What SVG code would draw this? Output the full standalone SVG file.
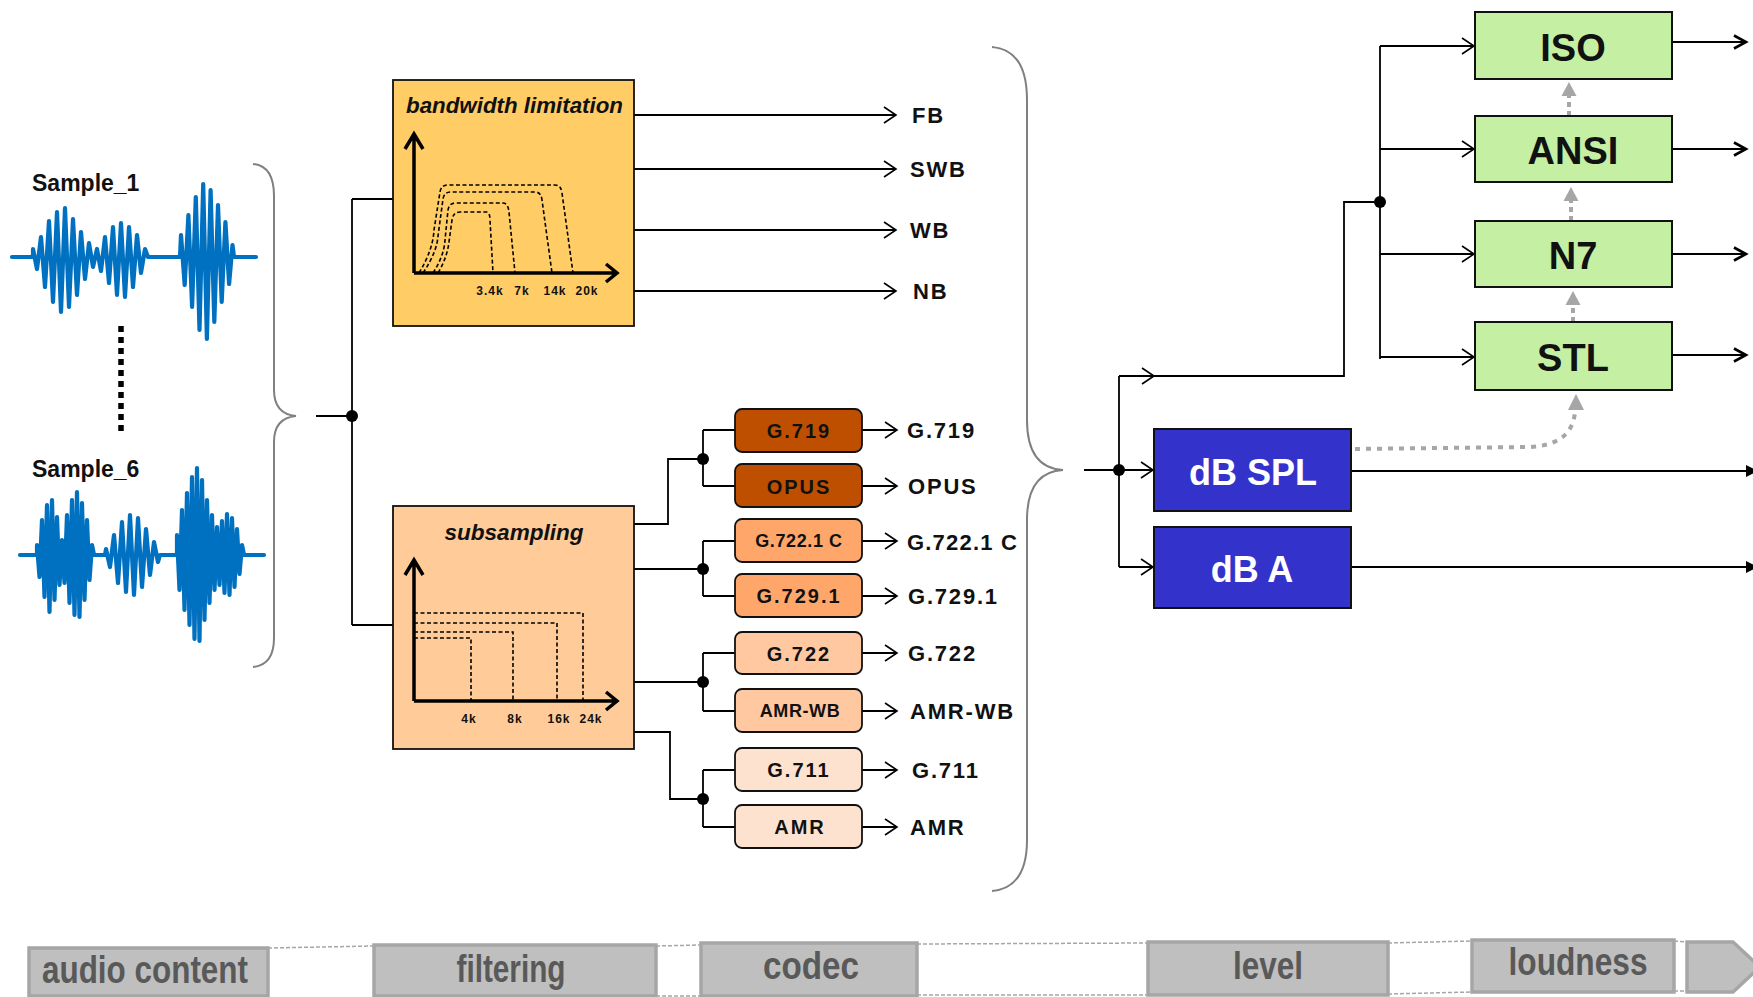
<svg xmlns="http://www.w3.org/2000/svg" width="1753" height="997" viewBox="0 0 1753 997">
  <defs>
    <style>
      text { font-family: "Liberation Sans", Arial, sans-serif; font-weight: bold; }
      .ln { fill: none; stroke: #000; stroke-width: 1.8; }
      .brace { fill: none; stroke: #808080; stroke-width: 2; }
      .dot { fill: #000; }
      .gdash { fill: none; stroke: #A6A6A6; stroke-width: 4; stroke-dasharray: 5 4; }
      .ghead { fill: #A6A6A6; }
      .wave { fill: none; stroke: #0070C0; stroke-width: 4.2; stroke-linejoin: round; stroke-linecap: round; }
      .axis { fill: none; stroke: #000; stroke-width: 3.5; }
      .curve { fill: none; stroke: #000; stroke-width: 1.6; stroke-dasharray: 4 2.5; }
      .codec { stroke: #111; stroke-width: 1.8; }
      .ctxt { font-size: 20px; text-anchor: middle; fill: #111; letter-spacing: 2px; }
      .lbl { font-size: 22px; fill: #111; letter-spacing: 1.8px; }
      .tick { font-size: 12px; fill: #111; letter-spacing: 1px; text-anchor: middle; }
      .green { fill: #C5F0A4; stroke: #111; stroke-width: 2; }
      .gtxt { font-size: 38px; text-anchor: middle; fill: #111; }
      .blue { fill: #3333CC; stroke: #111; stroke-width: 2; }
      .btxt { font-size: 36px; text-anchor: middle; fill: #fff; }
      .stage { fill: #BFBFBF; stroke: #A6A6A6; stroke-width: 3.5; }
      .stxt { font-size: 38px; fill: #595959; text-anchor: middle; }
      .sdash { fill: none; stroke: #A6A6A6; stroke-width: 1.5; stroke-dasharray: 4 2; }
    </style>
    <marker id="open" markerUnits="userSpaceOnUse" markerWidth="16" markerHeight="18" refX="12" refY="8" orient="auto" overflow="visible">
      <path d="M0,0 L12,8 L0,16" fill="none" stroke="#000" stroke-width="1.6"/>
    </marker>
    <marker id="bold" markerUnits="userSpaceOnUse" markerWidth="16" markerHeight="16" refX="12" refY="6.5" orient="auto" overflow="visible">
      <path d="M0,0 L12,6.5 L0,13" fill="none" stroke="#000" stroke-width="2.6"/>
    </marker>
  </defs>

  <rect width="1753" height="997" fill="#fff"/>

  <!-- audio samples -->
  <g id="sample1">
    <text x="32" y="191" font-size="23" fill="#111">Sample_1</text>
    <path class="wave" d="M12,257 L33,257 L33,249 L37,269 L41,237 L45,287 L49,221 L53,302 L57,212 L61,312 L65,208 L69,307 L73,219 L77,295 L81,232 L85,279 L89,243 L93,267 L97,249 L101,271 L105,237 L109,283 L113,227 L117,295 L121,223 L125,297 L129,227 L133,287 L137,235 L141,273 L145,249 L148,257 L180,257 L181,235 L184.7,285 L188.4,215 L192.1,307 L195.8,197 L199.5,330 L203.2,184 L206.9,339 L210.6,190 L214.3,322 L218,205 L221.7,302 L225.4,222 L229.1,284 L232.5,245 L234,257 L256,257"/>
  </g>
  <g id="ellipsis">
    <line x1="121" y1="326" x2="121" y2="431" stroke="#000" stroke-width="5.5" stroke-dasharray="6 5"/>
  </g>
  <g id="sample6">
    <text x="32" y="477" font-size="23" fill="#111">Sample_6</text>
    <path class="wave" d="M20,555 L37,555 L37,545 L39.5,577 L42,520 L44.5,597 L47,505 L49.5,612 L52,500 L54.5,600 L57,517 L59.5,585 L62,540 L64.5,583 L67,515 L69.5,603 L72,500 L74.5,615 L77,492 L79.5,617 L82,503 L84.5,600 L87,520 L89.5,580 L92,545 L94,555 L105,555 L106,549 L110,567 L114,535 L118,583 L122,522 L126,592 L130,515 L134,595 L138,518 L142,587 L146,529 L150,575 L154,542 L158,562 L160,555 L177,555 L177,535 L179.5,590 L182,510 L184.5,610 L187,493 L189.5,625 L192,477 L194.5,639 L197,468 L199.5,641 L202,480 L204.5,620 L207,500 L209.5,603 L212,515 L214.5,590 L217,527 L219.5,585 L222,521 L224.5,593 L227,514 L229.5,595 L232,518 L234.5,587 L237,529 L239.5,574 L242,545 L244,555 L264,555"/>
  </g>

  <!-- connectors -->
  <g id="connectors">
    <path class="brace" d="M253,164 Q274,166 274,196 L274,390 Q274,414 296,416 Q274,418 274,442 L274,638 Q274,665 253,667"/>
    <path class="ln" d="M316,416 L352,416 M352,199 L352,625 M352,199 L393,199 M352,625 L393,625"/>
    <circle class="dot" cx="352" cy="416" r="6"/>

    <line class="ln" x1="634" y1="115" x2="896" y2="115" marker-end="url(#open)"/>
    <line class="ln" x1="634" y1="169" x2="896" y2="169" marker-end="url(#open)"/>
    <line class="ln" x1="634" y1="230" x2="896" y2="230" marker-end="url(#open)"/>
    <line class="ln" x1="634" y1="291" x2="896" y2="291" marker-end="url(#open)"/>

    <path class="ln" d="M634,524 L668,524 L668,459 L703,459 M703,430 L703,486 M703,430 L735,430 M703,486 L735,486"/>
    <path class="ln" d="M634,569 L703,569 M703,541 L703,596 M703,541 L735,541 M703,596 L735,596"/>
    <path class="ln" d="M634,682 L703,682 M703,653 L703,711 M703,653 L735,653 M703,711 L735,711"/>
    <path class="ln" d="M634,732 L670,732 L670,799 L703,799 M703,770 L703,827 M703,770 L735,770 M703,827 L735,827"/>
    <circle class="dot" cx="703" cy="459" r="6"/>
    <circle class="dot" cx="703" cy="569" r="6"/>
    <circle class="dot" cx="703" cy="682" r="6"/>
    <circle class="dot" cx="703" cy="799" r="6"/>

    <line class="ln" x1="862" y1="430" x2="897" y2="430" marker-end="url(#open)"/>
    <line class="ln" x1="862" y1="486" x2="897" y2="486" marker-end="url(#open)"/>
    <line class="ln" x1="862" y1="541" x2="897" y2="541" marker-end="url(#open)"/>
    <line class="ln" x1="862" y1="596" x2="897" y2="596" marker-end="url(#open)"/>
    <line class="ln" x1="862" y1="653" x2="897" y2="653" marker-end="url(#open)"/>
    <line class="ln" x1="862" y1="711" x2="897" y2="711" marker-end="url(#open)"/>
    <line class="ln" x1="862" y1="770" x2="897" y2="770" marker-end="url(#open)"/>
    <line class="ln" x1="862" y1="827" x2="897" y2="827" marker-end="url(#open)"/>

    <path class="brace" d="M992,47 Q1027,50 1027,100 L1027,420 Q1027,468 1063,470 Q1027,472 1027,520 L1027,840 Q1027,888 992,891"/>
    <line class="ln" x1="1084" y1="470" x2="1153" y2="470" marker-end="url(#open)"/>
    <path class="ln" d="M1119,376 L1119,567"/>
    <circle class="dot" cx="1119" cy="470" r="6"/>
    <line class="ln" x1="1119" y1="567" x2="1153" y2="567" marker-end="url(#open)"/>
    <line class="ln" x1="1119" y1="376" x2="1154" y2="376" marker-end="url(#open)"/>
    <path class="ln" d="M1154,376 L1344,376 L1344,202 L1380,202 M1380,46 L1380,359"/>
    <circle class="dot" cx="1380" cy="202" r="6"/>
    <line class="ln" x1="1380" y1="46" x2="1474" y2="46" marker-end="url(#open)"/>
    <line class="ln" x1="1380" y1="149" x2="1474" y2="149" marker-end="url(#open)"/>
    <line class="ln" x1="1380" y1="254" x2="1474" y2="254" marker-end="url(#open)"/>
    <line class="ln" x1="1380" y1="357" x2="1474" y2="357" marker-end="url(#open)"/>

    <line class="ln" x1="1672" y1="42" x2="1746" y2="42" marker-end="url(#bold)"/>
    <line class="ln" x1="1672" y1="149" x2="1746" y2="149" marker-end="url(#bold)"/>
    <line class="ln" x1="1672" y1="254" x2="1746" y2="254" marker-end="url(#bold)"/>
    <line class="ln" x1="1672" y1="355" x2="1746" y2="355" marker-end="url(#bold)"/>

    <path class="ln" d="M1351,471 L1753,471 M1351,567 L1753,567"/>
    <polygon points="1746,465 1758,471 1746,477" fill="#000"/>
    <polygon points="1746,561 1758,567 1746,573" fill="#000"/>

    <line class="gdash" x1="1569" y1="116" x2="1569" y2="96"/>
    <polygon class="ghead" points="1561.5,96 1569,82 1576.5,96"/>
    <line class="gdash" x1="1571" y1="221" x2="1571" y2="201"/>
    <polygon class="ghead" points="1563.5,201 1571,187 1578.5,201"/>
    <line class="gdash" x1="1573" y1="322" x2="1573" y2="305"/>
    <polygon class="ghead" points="1565.5,305 1573,291 1580.5,305"/>
    <path class="gdash" style="stroke-dasharray:5 6" d="M1355,449 L1530,447 Q1572,445 1575,412"/>
    <polygon class="ghead" points="1568,410 1576,394 1584,410"/>
  </g>

  <!-- filtering blocks -->
  <g id="bandwidth">
    <rect x="393" y="80" width="241" height="246" fill="#FFCC66" stroke="#111" stroke-width="1.8"/>
    <text x="406" y="113" font-size="22" font-style="italic" fill="#111" textLength="217" lengthAdjust="spacingAndGlyphs">bandwidth limitation</text>
    <path class="axis" d="M414,273 L414,134 M405,149 L414,134 L423,149 M414,273 L617,273 M606,264 L617,273 L606,282"/>
    <path class="curve" d="M438,273 Q447,258 449,242 L452,220 Q453,212 460,212 L486,212 Q490,212 490,220 L493,273"/>
    <path class="curve" d="M433,273 Q444,256 445,240 L448,210 Q449,203 456,203 L503,203 Q508,203 509,212 L515,273"/>
    <path class="curve" d="M423,273 Q437,252 438,236 L443,199 Q444,192 451,192 L535,192 Q541,192 542,200 L552,273"/>
    <path class="curve" d="M419,273 Q433,250 434,230 L440,192 Q441,185 448,185 L555,185 Q561,185 562,193 L573,273"/>
    <text class="tick" x="490" y="295">3.4k</text>
    <text class="tick" x="522" y="295">7k</text>
    <text class="tick" x="555" y="295">14k</text>
    <text class="tick" x="587" y="295">20k</text>
  </g>
  <g id="bw-outputs">
    <text class="lbl" x="912" y="123">FB</text>
    <text class="lbl" x="910" y="177">SWB</text>
    <text class="lbl" x="910" y="238">WB</text>
    <text class="lbl" x="913" y="299">NB</text>
  </g>

  <g id="subsampling">
    <rect x="393" y="506" width="241" height="243" fill="#FFCC99" stroke="#111" stroke-width="1.8"/>
    <text x="514" y="540" font-size="22" font-style="italic" fill="#111" text-anchor="middle" textLength="139" lengthAdjust="spacingAndGlyphs">subsampling</text>
    <path class="curve" d="M414,613 L583,613 L583,701 M414,623 L557,623 L557,701 M414,632 L513,632 L513,701 M414,638 L471,638 L471,701"/>
    <path class="axis" d="M414,701 L414,560 M405,575 L414,560 L423,575 M414,701 L617,701 M606,692 L617,701 L606,710"/>
    <text class="tick" x="469" y="723">4k</text>
    <text class="tick" x="515" y="723">8k</text>
    <text class="tick" x="559" y="723">16k</text>
    <text class="tick" x="591" y="723">24k</text>
  </g>

  <!-- codecs -->
  <g id="codec-g719">
    <rect class="codec" x="735" y="409" width="127" height="43" rx="7" fill="#BF4F00"/>
    <text class="ctxt" x="799" y="438">G.719</text>
    <text class="lbl" x="907" y="438">G.719</text>
  </g>
  <g id="codec-opus">
    <rect class="codec" x="735" y="464" width="127" height="43" rx="7" fill="#BF4F00"/>
    <text class="ctxt" x="799" y="494">OPUS</text>
    <text class="lbl" x="908" y="494">OPUS</text>
  </g>
  <g id="codec-g7221c">
    <rect class="codec" x="735" y="519" width="127" height="43" rx="7" fill="#FFA66A"/>
    <text class="ctxt" x="799" y="547" style="font-size:18px;letter-spacing:0.6px">G.722.1 C</text>
    <text class="lbl" x="907" y="550" style="letter-spacing:1.2px">G.722.1 C</text>
  </g>
  <g id="codec-g7291">
    <rect class="codec" x="735" y="574" width="127" height="43" rx="7" fill="#FFA66A"/>
    <text class="ctxt" x="799" y="603">G.729.1</text>
    <text class="lbl" x="908" y="604">G.729.1</text>
  </g>
  <g id="codec-g722">
    <rect class="codec" x="735" y="632" width="127" height="42" rx="7" fill="#FFC8A0"/>
    <text class="ctxt" x="799" y="661">G.722</text>
    <text class="lbl" x="908" y="661">G.722</text>
  </g>
  <g id="codec-amrwb">
    <rect class="codec" x="735" y="689" width="127" height="43" rx="7" fill="#FFC8A0"/>
    <text class="ctxt" x="800" y="717" style="font-size:18px;letter-spacing:0.6px">AMR-WB</text>
    <text class="lbl" x="910" y="719">AMR-WB</text>
  </g>
  <g id="codec-g711">
    <rect class="codec" x="735" y="748" width="127" height="43" rx="7" fill="#FDE2CF"/>
    <text class="ctxt" x="799" y="777">G.711</text>
    <text class="lbl" x="912" y="778">G.711</text>
  </g>
  <g id="codec-amr">
    <rect class="codec" x="735" y="805" width="127" height="43" rx="7" fill="#FDE2CF"/>
    <text class="ctxt" x="800" y="834">AMR</text>
    <text class="lbl" x="910" y="835">AMR</text>
  </g>

  <!-- level -->
  <g id="dbspl">
    <rect class="blue" x="1154" y="429" width="197" height="82"/>
    <text class="btxt" x="1253" y="485">dB SPL</text>
  </g>
  <g id="dba">
    <rect class="blue" x="1154" y="527" width="197" height="81"/>
    <text class="btxt" x="1252" y="582">dB A</text>
  </g>

  <!-- loudness -->
  <g id="iso">
    <rect class="green" x="1475" y="12" width="197" height="67"/>
    <text class="gtxt" x="1573" y="61">ISO</text>
  </g>
  <g id="ansi">
    <rect class="green" x="1475" y="116" width="197" height="66"/>
    <text class="gtxt" x="1573" y="164">ANSI</text>
  </g>
  <g id="n7">
    <rect class="green" x="1475" y="221" width="197" height="66"/>
    <text class="gtxt" x="1573" y="269">N7</text>
  </g>
  <g id="stl">
    <rect class="green" x="1475" y="322" width="197" height="68"/>
    <text class="gtxt" x="1573" y="371">STL</text>
  </g>

  <!-- processing stages -->
  <g id="stage-links">
    <path class="sdash" d="M268,948 L374,946 M656,946 L701,945 M656,996 L701,996 M917,944 L1148,943 M917,995 L1148,995 M1388,943 L1472,941 M1388,994 L1472,992 M1674,941 L1687,942 M1674,991 L1687,991"/>
  </g>
  <g id="stage-audio">
    <rect class="stage" x="29" y="948" width="239" height="48"/>
    <text class="stxt" x="145" y="983" textLength="206" lengthAdjust="spacingAndGlyphs">audio content</text>
  </g>
  <g id="stage-filtering">
    <rect class="stage" x="374" y="945" width="282" height="51"/>
    <text class="stxt" x="511" y="982" textLength="109" lengthAdjust="spacingAndGlyphs">filtering</text>
  </g>
  <g id="stage-codec">
    <rect class="stage" x="701" y="943" width="216" height="53"/>
    <text class="stxt" x="811" y="979" textLength="96" lengthAdjust="spacingAndGlyphs">codec</text>
  </g>
  <g id="stage-level">
    <rect class="stage" x="1148" y="942" width="240" height="53"/>
    <text class="stxt" x="1268" y="979" textLength="70" lengthAdjust="spacingAndGlyphs">level</text>
  </g>
  <g id="stage-loudness">
    <rect class="stage" x="1472" y="940" width="202" height="52"/>
    <text class="stxt" x="1578" y="975" textLength="139" lengthAdjust="spacingAndGlyphs">loudness</text>
  </g>
  <g id="stage-next">
    <path class="stage" d="M1687,942 L1733,942 L1760,967 L1733,992 L1687,992 Z"/>
  </g>
</svg>
